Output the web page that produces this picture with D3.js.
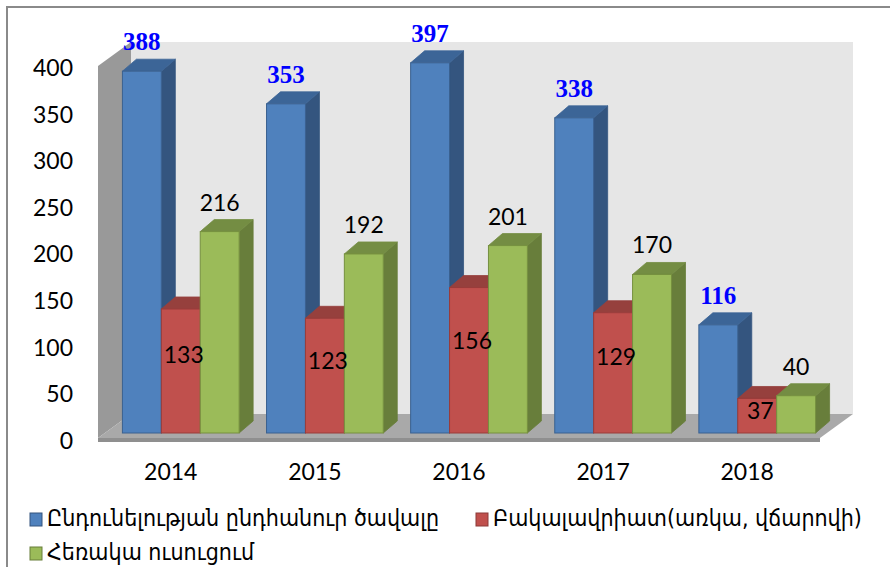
<!DOCTYPE html>
<html>
<head>
<meta charset="utf-8">
<script src="https://cdn.jsdelivr.net/npm/d3@7"></script>
<style>
  body { margin: 0; background: #fff; }
  text { font-family: Lato, "DejaVu Sans", sans-serif; }
</style>
</head>
<body>
<div class="chart"></div>
<script>
var years = ["2014", "2015", "2016", "2017", "2018"];
var seriesNames = ["Ընդունելության ընդհանուր ծավալը", "Բակալավրիատ(առկա, վճարովի)", "Հեռակա ուսուցում"];
var totalAdmission = [388, 353, 397, 338, 116];
var bachelorPaid = [133, 123, 156, 129, 37];
var distance = [216, 192, 201, 170, 40];
var yTicks = [0, 50, 100, 150, 200, 250, 300, 350, 400];

var fronts = ["#4f81bd", "#c0504d", "#9bbb59"];
var sides = ["#34557f", "#8c3a38", "#687e3b"];
var tops = ["#3c6597", "#96403d", "#748d43"];
var edges = ["#3a6190", "#9a3c3a", "#76903f"];

var svg = d3.select(".chart")
            .append("svg")
            .attr("width", 890)
            .attr("height", 567);

// outer frame
svg.append("rect")
    .attr("x", 7).attr("y", 7)
    .attr("width", 900).attr("height", 600)
    .style("fill", "none")
    .style("stroke", "#8a8a8a")
    .style("stroke-width", 2);

var y = d3.scaleLinear().domain([0, 400]).range([433, 60]);
var x0 = d3.scaleBand().domain(years).range([108, 830]).paddingInner(0.19).paddingOuter(0.1);
var x1 = d3.scaleBand().domain([0, 1, 2]).range([0, x0.bandwidth()]);

var dx = 14, dy = -12;   // bar depth
var wx = 33, wy = -24;   // wall depth
var wallL = 98, wallR = 820;
var floorY = y(0) + 5, wallTop = y(400) + 6;

// walls + floor
svg.append("polygon")
    .attr("points", [[wallL + wx, wallTop + wy], [wallR + wx, wallTop + wy], [wallR + wx, floorY + wy], [wallL + wx, floorY + wy]].join(" "))
    .style("fill", "#e6e6e6");
svg.append("polygon")
    .attr("points", [[wallL, wallTop], [wallL + wx, wallTop + wy], [wallL + wx, floorY + wy], [wallL, floorY]].join(" "))
    .style("fill", "#999999");
svg.append("polygon")
    .attr("points", [[wallL, floorY], [wallL + wx, floorY + wy], [wallR + wx, floorY + wy], [wallR, floorY]].join(" "))
    .style("fill", "#a9a9a9");
svg.append("rect")
    .attr("x", wallL).attr("y", floorY)
    .attr("width", wallR - wallL).attr("height", 4)
    .style("fill", "#8f8f8f");

// y axis labels
var yLab = d3.scaleLinear().domain([0, 400]).range([441, 68]);
var yAxis = svg.append("g")
    .attr("transform", "translate(76,0)")
    .call(d3.axisLeft(yLab).tickValues(yTicks).tickSize(0).tickPadding(3));
yAxis.select(".domain").remove();
yAxis.selectAll("text")
    .style("font-family", "Lato, sans-serif")
    .style("font-size", "23px")
    .style("fill", "#000");

// x axis labels
svg.selectAll(".year")
    .data(years)
  .enter()
    .append("text")
    .attr("x", function(d) { return x0(d) + x0.bandwidth() / 2 - 10; })
    .attr("y", 480)
    .attr("text-anchor", "middle")
    .style("font-size", "23px")
    .text(function(d) { return d; });

var allSeries = [totalAdmission, bachelorPaid, distance];
var bars = [];
years.forEach(function(yr, i) {
    allSeries.forEach(function(s, k) {
        bars.push({year: yr, k: k, v: s[i]});
    });
});

var g = svg.selectAll(".bar")
    .data(bars)
  .enter()
    .append("g")
    .attr("class", "bar");

g.append("polygon")
    .attr("points", function(d) {
        var x = x0(d.year) + x1(d.k), w = x1.bandwidth(), t = y(d.v), b = y(0);
        return [[x + w, t], [x + w + dx, t + dy], [x + w + dx, b + dy], [x + w, b]].join(" ");
    })
    .style("fill", function(d) { return sides[d.k]; })
    .style("stroke", function(d) { return sides[d.k]; })
    .style("stroke-width", 0.8);

g.append("polygon")
    .attr("points", function(d) {
        var x = x0(d.year) + x1(d.k), w = x1.bandwidth(), t = y(d.v);
        return [[x, t], [x + dx, t + dy], [x + w + dx, t + dy], [x + w, t]].join(" ");
    })
    .style("fill", function(d) { return tops[d.k]; })
    .style("stroke", function(d) { return tops[d.k]; })
    .style("stroke-width", 0.8);

g.append("rect")
    .attr("x", function(d) { return x0(d.year) + x1(d.k); })
    .attr("y", function(d) { return y(d.v); })
    .attr("width", x1.bandwidth())
    .attr("height", function(d) { return y(0) - y(d.v); })
    .style("fill", function(d) { return fronts[d.k]; })
    .style("stroke", function(d) { return edges[d.k]; })
    .style("stroke-width", 1);

// value labels
svg.selectAll(".val")
    .data(bars)
  .enter()
    .append("text")
    .attr("x", function(d) {
        var c = x0(d.year) + x1(d.k) + x1.bandwidth() / 2;
        return d.k == 1 ? c + 3 : c;
    })
    .attr("y", function(d) {
        if (d.k == 1) {
            var h = y(0) - y(d.v);
            return (y(d.v) + y(0)) / 2 - h * 0.13 + 8;
        }
        return y(d.v) + dy - 9;
    })
    .attr("text-anchor", "middle")
    .style("font-family", function(d) { return d.k == 0 ? "'Liberation Serif', serif" : "Lato, sans-serif"; })
    .style("font-weight", function(d) { return d.k == 0 ? "bold" : "normal"; })
    .style("font-size", function(d) { return d.k == 0 ? "25px" : "23px"; })
    .style("fill", function(d) { return d.k == 0 ? "#0000ff" : "#000"; })
    .text(function(d) { return d.v; });

// legend
var legendPos = [[30, 513], [476, 513], [30, 547]];
var leg = svg.selectAll(".leg")
    .data(seriesNames)
  .enter()
    .append("g")
    .attr("transform", function(d, i) { return "translate(" + legendPos[i][0] + "," + legendPos[i][1] + ")"; });

leg.append("rect")
    .attr("width", 12).attr("height", 13)
    .style("fill", function(d, i) { return fronts[i]; })
    .style("stroke", function(d, i) { return sides[i]; })
    .style("stroke-width", 1);

leg.append("text")
    .attr("x", 17)
    .attr("y", 13)
    .style("font-family", "'DejaVu Sans Condensed', 'DejaVu Sans', sans-serif")
    .style("font-size", "23px")
    .text(function(d) { return d; });
</script>
</body>
</html>
